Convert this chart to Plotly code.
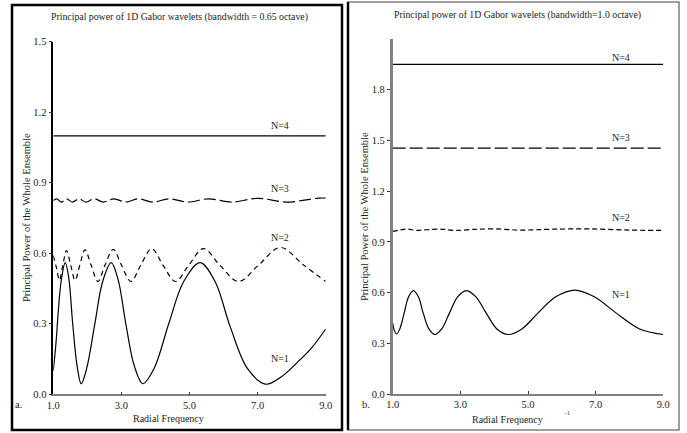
import plotly.graph_objects as go

W, H = 687, 433

# ---------------- data ----------------
# Panel a: bandwidth = 0.65 octave
a_n1_x = [1.00, 1.08, 1.15, 1.23, 1.35, 1.45, 1.57, 1.70, 1.82, 1.98, 2.22, 2.45, 2.70, 2.90,
          3.13, 3.38, 3.63, 3.96, 4.39, 4.83, 5.31, 5.75, 6.19, 6.70, 7.23, 7.70, 8.16, 8.60, 9.00]
a_n1_y = [0.10, 0.22, 0.36, 0.48, 0.56, 0.50, 0.30, 0.12, 0.045, 0.11, 0.30, 0.48, 0.56, 0.49,
          0.30, 0.12, 0.045, 0.11, 0.30, 0.48, 0.56, 0.48, 0.29, 0.11, 0.043, 0.075, 0.135, 0.20, 0.278]

a_n2_x = [1.00, 1.09, 1.18, 1.28, 1.39, 1.51, 1.64, 1.78, 1.93, 2.11, 2.31, 2.52, 2.76, 3.00,
          3.28, 3.57, 3.89, 4.22, 4.59, 4.98, 5.41, 5.89, 6.44, 7.03, 7.67, 8.35, 9.00]
a_n2_y = [0.59, 0.54, 0.485, 0.55, 0.612, 0.55, 0.485, 0.55, 0.615, 0.55, 0.48, 0.55, 0.617, 0.55,
          0.48, 0.55, 0.62, 0.55, 0.48, 0.55, 0.62, 0.55, 0.48, 0.55, 0.625, 0.55, 0.48]

a_n3_x = [1.00, 1.10, 1.24, 1.39, 1.56, 1.75, 1.96, 2.20, 2.47, 2.78, 3.12, 3.50, 3.92,
          4.40, 4.95, 5.56, 6.24, 7.00, 7.85, 8.80, 9.00]
a_n3_y = [0.825, 0.832, 0.818, 0.832, 0.818, 0.832, 0.818, 0.832, 0.818, 0.832, 0.818, 0.832, 0.818,
          0.832, 0.818, 0.832, 0.818, 0.834, 0.818, 0.835, 0.835]

a_n4_x = [1.0, 9.0]
a_n4_y = [1.10, 1.10]

# Panel b: bandwidth = 1.0 octave
b_n1_x = [1.00, 1.05, 1.12, 1.22, 1.34, 1.47, 1.61, 1.76, 1.90, 2.07, 2.25, 2.45, 2.68, 2.92,
          3.18, 3.46, 3.76, 4.08, 4.42, 4.82, 5.30, 5.82, 6.39, 6.96, 7.60, 8.30, 9.00]
b_n1_y = [0.42, 0.375, 0.355, 0.39, 0.48, 0.575, 0.612, 0.575, 0.48, 0.385, 0.352, 0.385, 0.48, 0.575,
          0.612, 0.575, 0.48, 0.385, 0.352, 0.385, 0.48, 0.575, 0.615, 0.575, 0.48, 0.385, 0.352]

b_n2_x = [1.00, 1.20, 1.44, 1.70, 2.00, 2.40, 2.85, 3.40, 4.00, 4.80, 5.70, 6.80, 8.00, 9.00]
b_n2_y = [0.962, 0.970, 0.976, 0.968, 0.972, 0.976, 0.968, 0.974, 0.977, 0.970, 0.975, 0.977, 0.970, 0.968]

b_n3_x = [1.0, 9.0]
b_n3_y = [1.455, 1.455]

b_n4_x = [1.0, 9.0]
b_n4_y = [1.95, 1.95]

x_ticks = [1.0, 3.0, 5.0, 7.0, 9.0]
a_y_ticks = [0.0, 0.3, 0.6, 0.9, 1.2, 1.5]
b_y_ticks = [0.0, 0.3, 0.6, 0.9, 1.2, 1.5, 1.8]

# ---------------- figure ----------------
SERIF = "Liberation Serif, Times New Roman, serif"

def px(x):
    return x / W

def py(y):
    return 1 - y / H

fig = go.Figure()

def add_line(x, y, xa, ya, dash, width=1.2):
    fig.add_trace(go.Scatter(x=x, y=y, xaxis=xa, yaxis=ya, mode="lines",
                             line=dict(color="black", width=width, dash=dash, shape="spline",
                                       smoothing=1.0),
                             hoverinfo="skip", showlegend=False))

add_line(a_n4_x, a_n4_y, "x", "y", "solid")
add_line(a_n3_x, a_n3_y, "x", "y", "12px,4px")
add_line(a_n2_x, a_n2_y, "x", "y", "5px,4px")
add_line(a_n1_x, a_n1_y, "x", "y", "solid")

add_line(b_n4_x, b_n4_y, "x2", "y2", "solid")
add_line(b_n3_x, b_n3_y, "x2", "y2", "13px,4px")
add_line(b_n2_x, b_n2_y, "x2", "y2", "5px,3px")
add_line(b_n1_x, b_n1_y, "x2", "y2", "solid")

tickfont = dict(family=SERIF, size=10.5, color="#222")

xa_common = dict(range=[1, 9], tickvals=x_ticks, ticktext=[f"{v:.1f}" for v in x_ticks],
                 showline=True, linecolor="#808080", linewidth=1.5,
                 ticks="inside", ticklen=3, tickcolor="#333", tickwidth=1,
                 showgrid=False, zeroline=False, tickfont=tickfont, automargin=False)

ya_common = dict(ticks="outside", ticklen=3, tickcolor="#333", tickwidth=1,
                 showgrid=False, zeroline=False, tickfont=tickfont, automargin=False)

fig.update_layout(
    width=W, height=H,
    margin=dict(l=0, r=0, t=0, b=0, autoexpand=False),
    paper_bgcolor="white", plot_bgcolor="white",
    xaxis=dict(domain=[px(53.3), px(325.7)], anchor="y", **xa_common),
    yaxis=dict(domain=[py(394.3), py(41.8)], anchor="x", range=[0, 1.5],
               tickvals=a_y_ticks, ticktext=[f"{v:.1f}" for v in a_y_ticks],
               showline=True, linecolor="black", linewidth=1.5, **ya_common),
    xaxis2=dict(domain=[px(392.7), px(663.3)], anchor="y2", **xa_common),
    yaxis2=dict(domain=[py(394.0), py(39.1)], anchor="x2", range=[0, 2.1],
                tickvals=b_y_ticks, ticktext=[f"{v:.1f}" for v in b_y_ticks],
                showline=True, linecolor="#808080", linewidth=2.5, **ya_common),
)

# panel borders
shapes = [
    dict(type="rect", xref="paper", yref="paper", x0=px(12), x1=px(342), y0=py(430), y1=py(5),
         line=dict(color="black", width=2.5)),
    dict(type="rect", xref="paper", yref="paper", x0=px(348), x1=px(679), y0=py(430), y1=py(2),
         line=dict(color="#808080", width=1.5)),
    dict(type="line", xref="paper", yref="paper", x0=px(348), x1=px(348), y0=py(430), y1=py(2),
         line=dict(color="black", width=2.5)),
]
fig.update_layout(shapes=shapes)

def ann(text, x, y, size=10, angle=0, xanchor="center"):
    fig.add_annotation(text=text, x=px(x), y=py(y), xref="paper", yref="paper",
                       showarrow=False, textangle=angle, xanchor=xanchor, yanchor="middle",
                       font=dict(family=SERIF, size=size, color="#222"))

ann("Principal power of 1D Gabor wavelets (bandwidth = 0.65 octave)", 179, 17, size=9.8)
ann("Principal power of 1D Gabor wavelets (bandwidth=1.0 octave)", 517, 15, size=9.8)

ann("Principal Power of the Whole Ensemble", 26, 218, size=10.5, angle=-90)
ann("Principal Power of the Whole Ensemble", 364, 217, size=10.5, angle=-90)

ann("Radial Frequency", 168, 418, size=10)
ann("Radial Frequency", 507, 419, size=10)

ann("a.", 13, 404, size=10.5, xanchor="left")
ann("b.", 360, 404, size=10.5, xanchor="left")
ann("-1", 567, 413, size=6)

ann("N=4", 280, 125)
ann("N=3", 280, 188)
ann("N=2", 280, 237)
ann("N=1", 280, 358)

ann("N=4", 621, 57)
ann("N=3", 621, 137)
ann("N=2", 621, 217)
ann("N=1", 621, 294)

fig.write_html("out.html", config={"displayModeBar": False},
               post_script="document.body.style.margin='0';document.body.style.overflow='hidden';")
